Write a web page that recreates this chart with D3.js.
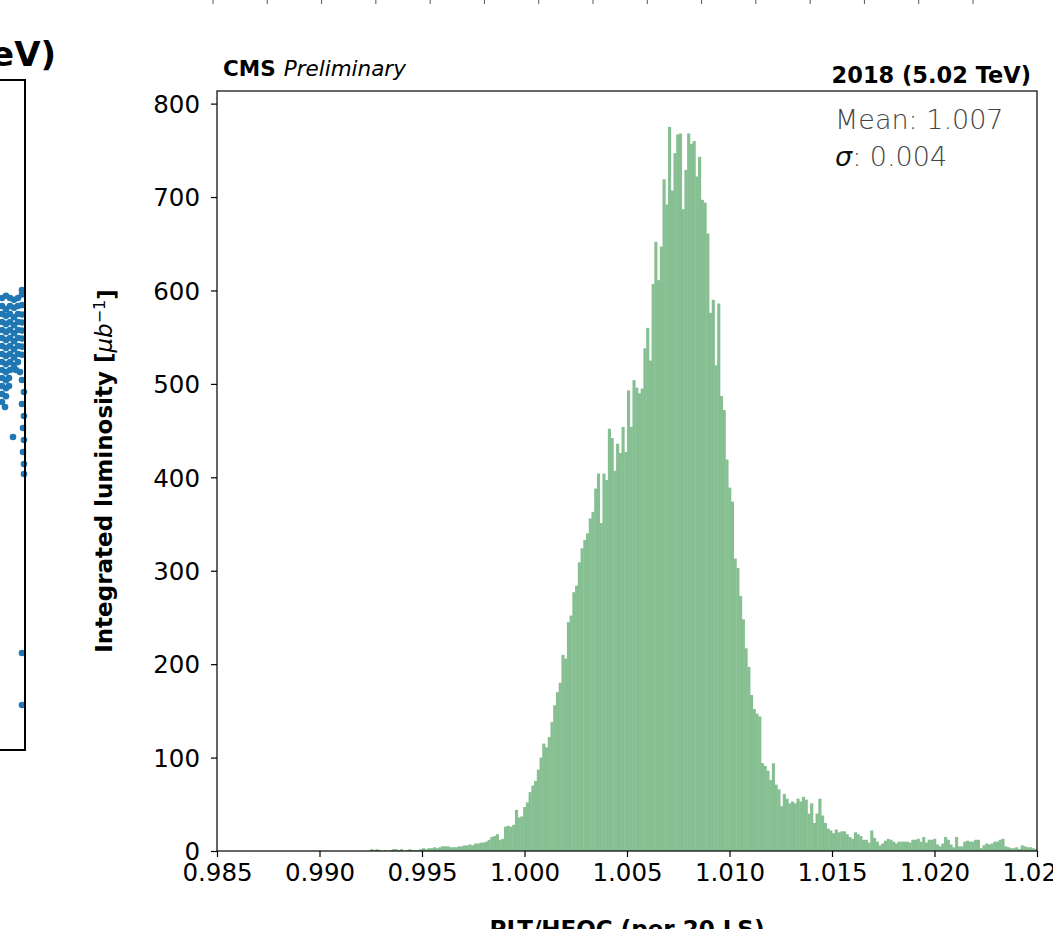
<!DOCTYPE html>
<html>
<head>
<meta charset="utf-8">
<script src="https://cdn.jsdelivr.net/npm/d3@7"></script>
<style>
  html, body { margin: 0; padding: 0; background: #fff; }
  svg { display: block; font-family: "DejaVu Sans", sans-serif; }
</style>
</head>
<body>
<div id="chart"></div>
<script>
// histogram: PLT/HFOC ratio per 20 LS, 300 bins over [0.985, 1.025]
const xDomain = [0.985, 1.025];
const nBins = 300;
const firstBin = 56; // first non-empty bin
const counts = [
  2, 1, 2, 1, 0, 1, 0, 1, 2, 2,
  1, 2, 0, 1, 2, 1, 1, 1, 2, 3,
  2, 3, 3, 4, 3, 4, 5, 5, 5, 4,
  4, 4, 5, 5, 6, 6, 7, 6, 8, 8,
  9, 9, 10, 12, 15,
  16, 18, 12, 13, 26, 27, 26, 28, 44, 36,
  37, 47, 52, 63, 70, 75, 87, 100, 115, 111,
  122, 138, 156, 170, 180, 210, 206, 245, 252, 277,
  284, 309, 324, 333, 340, 356, 363, 388, 404, 351,
  404, 397, 452, 442, 407, 436, 426, 454, 427, 493,
  454, 504, 496, 490,
  495, 538, 560, 525, 607, 652, 611, 647, 719, 692,
  775, 707, 747, 767, 768, 687, 729, 768, 757, 760,
  722, 743, 697, 694, 661, 576, 590, 520, 586, 487,
  472, 419, 389, 374, 313, 303, 273, 248, 217, 197,
  167, 152, 147, 144, 94, 91, 86, 76, 94, 71,
  66, 48, 61, 56, 51, 53, 51, 56, 53,
  58, 55, 40, 51, 30, 40, 56, 38, 30, 24,
  22, 19, 23, 20, 21, 21, 18, 15, 13, 20,
  18, 16, 12, 12, 9, 22, 14, 10, 6, 8,
  11, 13, 12, 10, 8, 10, 10, 10, 10, 9,
  12, 12, 13, 10, 15, 9, 12, 12, 13, 7,
  5, 8, 15, 12, 7, 4, 15, 5, 5, 10,
  11, 10, 10, 12, 12, 3, 6, 8, 7, 8,
  10, 10, 12, 13, 5, 4, 3, 3, 4, 2,
  6, 5, 4, 4, 3, 2
];
const yTicks = [0, 100, 200, 300, 400, 500, 600, 700, 800];
const xTicks = [0.985, 0.990, 0.995, 1.000, 1.005, 1.010, 1.015, 1.020, 1.025];
const statsMean = '1.007';
const statsSigma = '0.004';

// neighbouring panels that are cut off in the picture
const topTicks = [0, 1, 2, 3, 4, 5, 6, 7, 8, 9, 10, 11, 12, 13, 14];
const leftPts = [
  [0.977, 1.01373], [0.981, 1.01390], [0.985, 1.01373], [0.989, 1.01360], [0.993, 1.01373], [0.997, 1.01400],
  [0.977, 1.01313], [0.981, 1.01290], [0.985, 1.01313], [0.989, 1.01300], [0.993, 1.01313], [0.997, 1.01320],
  [0.977, 1.01254], [0.981, 1.01240], [0.985, 1.01254], [0.989, 1.01230], [0.993, 1.01254], [0.997, 1.01250],
  [0.977, 1.01194], [0.981, 1.01180], [0.985, 1.01194], [0.989, 1.01170], [0.993, 1.01194], [0.997, 1.01190],
  [0.977, 1.01134], [0.981, 1.01120], [0.985, 1.01134], [0.989, 1.01110], [0.993, 1.01134], [0.997, 1.01130],
  [0.977, 1.01075], [0.981, 1.01060], [0.985, 1.01075], [0.989, 1.01050], [0.993, 1.01075], [0.997, 1.01070],
  [0.977, 1.01015], [0.981, 1.01000], [0.985, 1.01015], [0.989, 1.00990], [0.993, 1.01015], [0.997, 1.01010],
  [0.977, 1.00955], [0.981, 1.00940], [0.985, 1.00955], [0.989, 1.00930], [0.993, 1.00955], [0.997, 1.00950],
  [0.977, 1.00896], [0.981, 1.00880], [0.985, 1.00896], [0.989, 1.00870], [0.993, 1.00896],
  [0.977, 1.00836], [0.981, 1.00820], [0.985, 1.00836], [0.991, 1.00836], [0.995, 1.00820],
  [0.977, 1.00776], [0.981, 1.00760], [0.984, 1.00776], [0.977, 1.00716], [0.981, 1.00700], [0.984, 1.00716],
  [0.977, 1.00657], [0.981, 1.00640], [0.977, 1.00597], [0.980, 1.00560],
  [0.997, 1.00761], [0.999, 1.00672], [0.997, 1.00582], [0.999, 1.00493],
  [0.998, 1.00403], [0.999, 1.00313], [0.998, 1.00224], [0.999, 1.00134],
  [0.999, 1.00060], [0.988, 1.00336], [0.997, 1.01433], [0.997, 0.98724],
  [0.997, 0.98336]
];

var width = 1053,
  height = 929;
var margin = {top: 91, right: 16, bottom: 78, left: 217};

var svg = d3
  .select('#chart')
  .append('svg')
  .attr('width', width)
  .attr('height', height);

var x = d3
  .scaleLinear()
  .domain(xDomain)
  .range([margin.left, width - margin.right]);

var y = d3
  .scaleLinear()
  .domain([0, 813.5])
  .range([height - margin.bottom, margin.top]);

var binWidth = (xDomain[1] - xDomain[0]) / nBins;

// bars
svg
  .append('g')
  .selectAll('rect')
  .data(counts)
  .enter()
  .append('rect')
  .attr('x', (d, i) => x(xDomain[0] + (firstBin + i) * binWidth))
  .attr('width', (d, i) => x(xDomain[0] + (firstBin + i + 1) * binWidth) - x(xDomain[0] + (firstBin + i) * binWidth) + 0.4)
  .attr('y', (d) => y(d))
  .attr('height', (d) => y(0) - y(d))
  .attr('fill', '#86bf91');

// frame
svg
  .append('rect')
  .attr('x', x.range()[0])
  .attr('y', y.range()[1])
  .attr('width', x.range()[1] - x.range()[0])
  .attr('height', y.range()[0] - y.range()[1])
  .attr('fill', 'none')
  .attr('stroke', '#000')
  .attr('stroke-width', 1.2);

// axes
var xAxis = svg
  .append('g')
  .attr('transform', `translate(0,${y(0)})`)
  .call(d3.axisBottom(x).tickValues(xTicks).tickFormat(d3.format('.3f')).tickSize(6).tickPadding(7));

var yAxis = svg
  .append('g')
  .attr('transform', `translate(${x(xDomain[0])},0)`)
  .call(d3.axisLeft(y).tickValues(yTicks).tickFormat(d3.format('d')).tickSize(6).tickPadding(11));

[xAxis, yAxis].forEach((ax) => {
  ax.select('.domain').remove();
  ax.selectAll('.tick line').attr('stroke', '#000').attr('stroke-width', 1.2);
  ax.selectAll('.tick text')
    .attr('fill', '#000')
    .style('font-family', '"DejaVu Sans", sans-serif')
    .style('font-size', '24.5px');
});
yAxis.selectAll('.tick text').attr('dy', '0.36em');

// axis labels
var ylab = svg
  .append('text')
  .attr('transform', `translate(112,${(y.range()[0] + y.range()[1]) / 2}) rotate(-90)`)
  .attr('text-anchor', 'middle')
  .style('font-size', '23px')
  .style('font-weight', 'bold');
ylab.append('tspan').text('Integrated luminosity [');
ylab.append('tspan').style('font-style', 'italic').style('font-weight', 'normal').text('\u03bcb');
ylab.append('tspan').attr('dy', '-0.45em').style('font-size', '16px').style('font-weight', 'normal').text('\u22121');
ylab.append('tspan').attr('dy', '0.45em').text(']');

svg
  .append('text')
  .attr('x', (x.range()[0] + x.range()[1]) / 2)
  .attr('y', 937)
  .attr('text-anchor', 'middle')
  .style('font-size', '23px')
  .style('font-weight', 'bold')
  .text('PLT/HFOC (per 20 LS)');

// CMS label and energy
var cms = svg
  .append('text')
  .attr('x', 223)
  .attr('y', 76)
  .style('font-size', '21.5px');
cms.append('tspan').style('font-weight', 'bold').text('CMS');
cms.append('tspan').style('font-style', 'italic').attr('dx', '8').text('Preliminary');

svg
  .append('text')
  .attr('x', 1031)
  .attr('y', 83)
  .attr('text-anchor', 'end')
  .style('font-size', '22.5px')
  .style('font-weight', 'bold')
  .text('2018 (5.02 TeV)');

// stats box text
svg
  .append('text')
  .attr('x', 835)
  .attr('y', 129)
  .style('font-size', '27px')
  .style('font-weight', '200')
  .attr('fill', '#444')
  .text('Mean: ' + statsMean);

var sig = svg
  .append('text')
  .attr('x', 835)
  .attr('y', 166)
  .style('font-size', '27px')
  .style('font-weight', '200')
  .attr('fill', '#444');
sig.append('tspan').style('font-style', 'italic').style('font-weight', 'normal').attr('fill', '#111').text('\u03c3');
sig.append('tspan').text(': ' + statsSigma);

// cut-off neighbouring panel on the left
var lx = d3.scaleLinear().domain([0.975, 1.0]).range([0, 25]);
var ly = d3.scaleLinear().domain([0.98, 1.03]).range([750, 80]);

svg
  .append('g')
  .selectAll('circle')
  .data(leftPts)
  .enter()
  .append('circle')
  .attr('cx', (d) => lx(d[0]))
  .attr('cy', (d) => ly(d[1]))
  .attr('r', 3.3)
  .attr('fill', '#1f77b4');

svg
  .append('rect')
  .attr('x', -10)
  .attr('y', ly(1.03))
  .attr('width', lx(1.0) + 10)
  .attr('height', ly(0.98) - ly(1.03))
  .attr('fill', 'none')
  .attr('stroke', '#000')
  .attr('stroke-width', 2);

svg
  .append('text')
  .attr('x', 56)
  .attr('y', 66)
  .attr('text-anchor', 'end')
  .style('font-size', '34px')
  .style('font-weight', 'bold')
  .text('eV)');

// cut-off ticks of the panel above
var tx = d3.scaleLinear().domain([0, 14]).range([213, 973]);
svg
  .append('g')
  .selectAll('line')
  .data(topTicks)
  .enter()
  .append('line')
  .attr('x1', (d) => tx(d))
  .attr('x2', (d) => tx(d))
  .attr('y1', 0)
  .attr('y2', 4)
  .attr('stroke', '#555')
  .attr('stroke-width', 1);
</script>
</body>
</html>
